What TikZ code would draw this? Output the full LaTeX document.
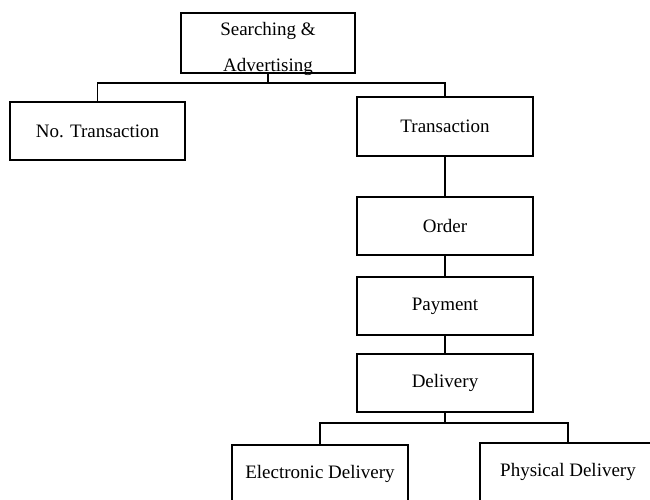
\documentclass[tikz,border=0pt]{standalone}
\usepackage{fontspec}
\setmainfont{Liberation Serif}
\usepackage{tikz}
\tikzset{%
    stagebox/.style={%
        draw, line width=1.3pt, fill=white,
        minimum width=176pt, minimum height=58pt, inner sep=0pt,
        font=\fontsize{19}{22}\selectfont
    },
    link/.style={line width=1.2pt}
}

\begin{document}
\begin{tikzpicture}[x=1pt,y=-1pt]
    \clip (0,0) rectangle (650,499);
    \fill[white] (0,0) rectangle (650,499);
    % top of the tree
    \node[stagebox, minimum width=174pt, minimum height=60pt] (srch) at (268,43) {};
    \node[align=center, inner sep=0pt, font=\fontsize{19}{36}\selectfont] (srchtxt) at (268,49) {Searching \&\\Advertising};
    \coordinate (bus1) at (268,83);
    \node[stagebox, minimum width=175pt] (notr) at (97.5,131) {No. Transaction};
    \node[stagebox, minimum height=59pt] (tr) at (445,126.5) {Transaction};
	% transaction stages
    \node[stagebox] (order) at (445,226) {Order};
    \node[stagebox] (pay) at (445,306) {Payment};
    \node[stagebox] (deliv) at (445,383) {Delivery};
    \coordinate (bus2) at (445,423);
    \node[stagebox] (elec) at (320,474) {Electronic Delivery};
    \node[stagebox] (phys) at (568,472) {Physical Delivery};
    % connectors
    \draw[link] (srch.south) -- (bus1);
    \draw[link] (notr.north) |- (bus1) -| (tr.north);
    \draw[link] (tr.south) -- (order.north);
    \draw[link] (order.south) -- (pay.north);
    \draw[link] (pay.south) -- (deliv.north);
    \draw[link] (deliv.south) -- (bus2);
    \draw[link] (elec.north) |- (bus2) -| (phys.north);
\end{tikzpicture}
\end{document}
